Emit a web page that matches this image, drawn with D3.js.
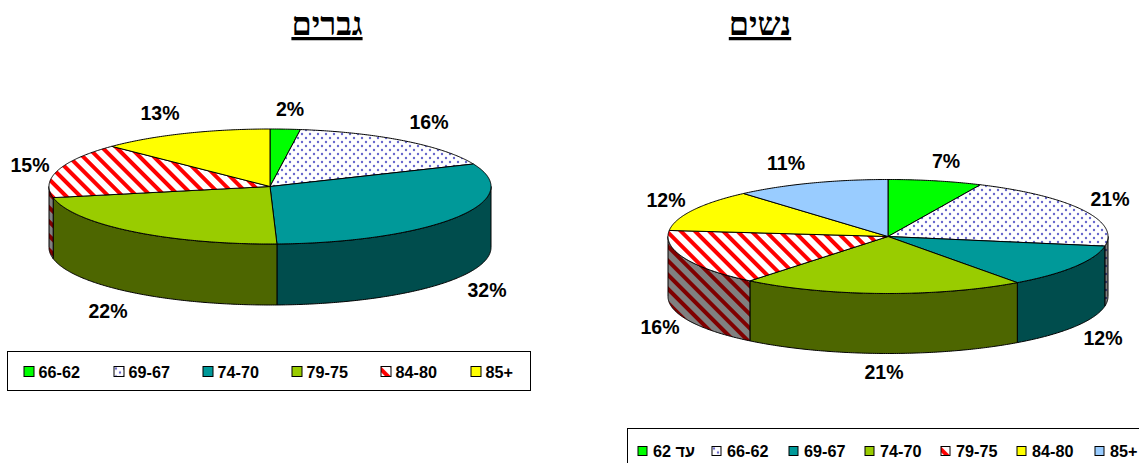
<!DOCTYPE html>
<html lang="he">
<head>
<meta charset="utf-8">
<script src="https://cdn.jsdelivr.net/npm/d3@7"></script>
<style>
    html, body { margin: 0; padding: 0; background: #fff; overflow: hidden; }
    text { font-family: "Liberation Sans", Arial, sans-serif; font-weight: bold; fill: #000; }
    .title { font-family: "Liberation Serif", serif; font-size: 32.5px; text-decoration: underline; text-decoration-thickness: 3px; text-underline-offset: 3px; }
    .pct { font-size: 19.5px; }
    .leg { font-size: 16.2px; }
</style>
</head>
<body>
<svg id="chart" width="1139" height="463"></svg>
<script>
// Age groups (as printed in the legends)
const menAges = ['66-62', '69-67', '74-70', '79-75', '84-80', '85+'];
const womenAges = ['עד 62', '66-62', '69-67', '74-70', '79-75', '84-80', '85+'];

// Slice sizes
const menValues = [2.2, 16.4, 30.9, 22.4, 15.4, 12.7];
const womenValues = [6.9, 20.8, 12.3, 20.8, 15.9, 11.9, 11.4];

// Percent labels as printed
const menLabels = ['2%', '16%', '32%', '22%', '15%', '13%'];
const womenLabels = ['7%', '21%', '12%', '21%', '16%', '12%', '11%'];

// Fill ids per age group
const menFills = ['green', 'dots', 'teal', 'olive', 'hatch', 'yellow'];
const womenFills = ['green', 'dots', 'teal', 'olive', 'hatch', 'yellow', 'blue'];

const topColor = d3.scaleOrdinal()
    .domain(['green', 'dots', 'teal', 'olive', 'hatch', 'yellow', 'blue'])
    .range(['#00ff00', 'url(#dotsTop)', '#009999', '#99cc00', 'url(#hatchTop)', '#ffff00', '#99ccff']);
const sideColor = d3.scaleOrdinal()
    .domain(['green', 'dots', 'teal', 'olive', 'hatch', 'yellow', 'blue'])
    .range(['#008000', 'url(#dotsSide)', '#004d4d', '#4d6600', 'url(#hatchSide)', '#808000', '#4d6680']);

const svg = d3.select('#chart');
const defs = svg.append('defs');

// Red diagonal stripes, light for the top and dark for the wall
function hatch(id, bg, fg) {
    const p = defs.append('pattern')
        .attr('id', id)
        .attr('patternUnits', 'userSpaceOnUse')
        .attr('width', 10).attr('height', 10)
        .attr('patternTransform', 'rotate(45)');
    p.append('rect').attr('width', 10).attr('height', 10).attr('fill', bg);
    p.append('rect').attr('width', 10).attr('height', 4).attr('fill', fg);
}
hatch('hatchTop', '#fff', '#ff0000');
hatch('hatchSide', '#808080', '#800000');

// Dotted fill
function dots(id, bg, fg) {
    const p = defs.append('pattern')
        .attr('id', id)
        .attr('patternUnits', 'userSpaceOnUse')
        .attr('width', 8).attr('height', 8);
    p.append('rect').attr('width', 8).attr('height', 8).attr('fill', bg);
    p.append('circle').attr('cx', 2).attr('cy', 2).attr('r', 1.2).attr('fill', fg);
    p.append('circle').attr('cx', 6).attr('cy', 6).attr('r', 1.2).attr('fill', fg);
}
dots('dotsTop', '#fff', '#6666cc');
dots('dotsSide', '#808080', '#333366');

function drawPie(cx, cy, rx, ry, depth, values, fills) {
    const slices = d3.pie().sort(null)(values);
    const g = svg.append('g');
    const line = d3.line();
    const point = (a, dy) => [cx + rx * Math.sin(a), cy - ry * Math.cos(a) + dy];

    // walls, only the front half of the ellipse can be seen
    slices.forEach((s, i) => {
        const a0 = Math.max(s.startAngle, Math.PI / 2);
        const a1 = Math.min(s.endAngle, Math.PI * 1.5);
        if (a1 <= a0) return;
        const steps = d3.range(a0, a1, 0.01).concat([a1]);
        const outline = steps.map(a => point(a, 0))
            .concat(steps.slice().reverse().map(a => point(a, depth)));
        g.append('path')
            .attr('d', line(outline) + 'Z')
            .attr('fill', sideColor(fills[i]))
            .attr('stroke', '#000')
            .attr('stroke-width', 1);
    });

    // top face
    slices.forEach((s, i) => {
        const steps = d3.range(s.startAngle, s.endAngle, 0.01).concat([s.endAngle]);
        const outline = [[cx, cy]].concat(steps.map(a => point(a, 0)));
        g.append('path')
            .attr('d', line(outline) + 'Z')
            .attr('fill', topColor(fills[i]))
            .attr('stroke', '#000')
            .attr('stroke-width', 1)
            .attr('stroke-linejoin', 'round');
    });
}

function drawLabels(labels, positions) {
    svg.append('g').selectAll('text')
        .data(labels)
        .enter()
        .append('text')
        .attr('class', 'pct')
        .attr('text-anchor', 'middle')
        .attr('x', (d, i) => positions[i][0])
        .attr('y', (d, i) => positions[i][1])
        .text(d => d);
}

function drawLegend(x, y, w, h, ages, fills, swatchX, swatchSize, textGap) {
    svg.append('rect')
        .attr('x', x).attr('y', y).attr('width', w).attr('height', h)
        .attr('fill', '#fff').attr('stroke', '#000').attr('stroke-width', 1);
    const item = svg.append('g').selectAll('g')
        .data(ages)
        .enter()
        .append('g')
        .attr('transform', (d, i) => `translate(${swatchX[i]},${Math.round(y + h / 2 - swatchSize / 2) + 0.5})`);
    item.append('rect')
        .attr('width', swatchSize).attr('height', swatchSize)
        .attr('fill', (d, i) => topColor(fills[i]))
        .attr('stroke', '#000');
    item.append('text')
        .attr('class', 'leg')
        .attr('x', swatchSize + textGap)
        .attr('y', swatchSize / 2 + 6)
        .attr('direction', 'ltr')
        .text(d => d);
}

// Titles
svg.append('text').attr('class', 'title').attr('text-anchor', 'middle').attr('x', 327).attr('y', 35).text('גברים');
svg.append('text').attr('class', 'title').attr('text-anchor', 'middle').attr('x', 760).attr('y', 35).text('נשים');

// Men
drawPie(270, 186.5, 221, 57.5, 61, menValues, menFills);
drawLabels(menLabels, [[290, 116], [429, 129], [487, 297], [108, 318], [30, 172], [160, 120]]);
drawLegend(7.5, 351.5, 523, 39, menAges, menFills, [24, 114, 203, 292, 381, 471], 10, 4.5);

// Women
drawPie(888, 236.5, 220, 57, 60, womenValues, womenFills);
drawLabels(womenLabels, [[946, 168], [1110, 206], [1103, 345], [884, 379], [660, 334], [666, 207], [786, 170]]);
drawLegend(627.5, 428.5, 520, 44, womenAges, womenFills, [638, 712, 789, 865, 941, 1017, 1095], 9, 6);
</script>
</body>
</html>
